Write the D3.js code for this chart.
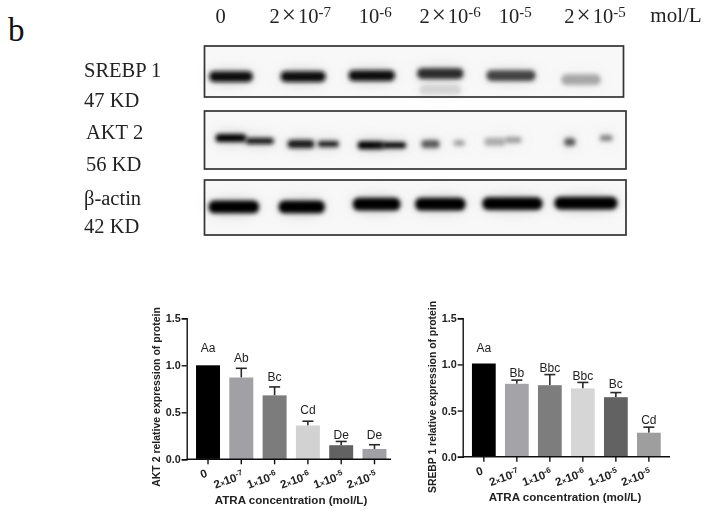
<!DOCTYPE html>
<html><head><meta charset="utf-8">
<script src="https://cdnjs.cloudflare.com/ajax/libs/d3/7.8.5/d3.min.js"></script>
<style>html,body{margin:0;padding:0;background:#fff}svg{display:block}</style>
</head><body><svg id="c" width="707" height="523"></svg>
<script>
// ---- chart data ----
const categories = ["0","2×10-7","1×10-6","2×10-6","1×10-5","2×10-5"];
const akt2Values = [1.0,0.87,0.68,0.36,0.15,0.11];
const akt2ErrTop = [1.0,0.968,0.77,0.405,0.19,0.155];
const akt2Letters = ["Aa","Ab","Bc","Cd","De","De"];
const akt2LetterAt = [1.145,1.04,0.83,0.48,0.22,0.22];
const srebpValues = [1.01,0.79,0.775,0.74,0.645,0.26];
const srebpErrTop = [1.01,0.83,0.89,0.805,0.695,0.32];
const srebpLetters = ["Aa","Bb","Bbc","Bbc","Bc","Cd"];
const srebpLetterAt = [1.14,0.86,0.92,0.83,0.745,0.355];
const yTicks = [0,0.5,1.0,1.5];
const akt2Greys = ["#000000","#a0a0a5","#7c7c7c","#d2d2d2","#626262","#a0a0a5"];
const srebpGreys = ["#000000","#a3a3a8","#7d7d7d","#d6d6d6","#626262","#9e9e9e"];
// ---- blot data: fractional lane, migration (0 top..1 bottom of panel), density, half-spread in lanes ----
const concLabels = ["0","2×10-7","10-6","2×10-6","10-5","2×10-5"];
const concLabelLane = [-0.15,0.99,2.06,3.13,4.06,5.2];
const srebpLane = [0,1.03,2.01,2.99,4.0,5.0];
const srebpMig = [0.60,0.60,0.58,0.54,0.58,0.66];
const srebpDensity = [0.95,0.95,0.95,0.82,0.72,0.3];
const srebpSpread = [0.31,0.32,0.33,0.33,0.35,0.28];
const aktLeftLane = [0,1,2,2.85,3.77,4.84];
const aktLeftMig = [0.466,0.57,0.59,0.57,0.53,0.535];
const aktLeftDensity = [1,0.9,1,0.62,0.28,0.62];
const aktLeftSpread = [0.22,0.19,0.19,0.13,0.15,0.08];
const aktRightLane = [0.41,1.39,2.33,3.26,4.03,5.36];
const aktRightMig = [0.517,0.57,0.59,0.55,0.50,0.466];
const aktRightDensity = [0.95,0.88,1,0.32,0.34,0.45];
const aktRightSpread = [0.2,0.15,0.17,0.08,0.12,0.09];
const actinLane = [0.04,1.01,2.08,2.99,4.02,5.07];
const actinMig = [0.49,0.49,0.44,0.44,0.43,0.42];
const actinDensity = [1,1,1,1,1,1];
const actinSpread = [0.36,0.33,0.34,0.36,0.43,0.45];
// faint smear below the 2×10-6 SREBP band
const smearLane = [2.99];
const smearMig = [0.86];
const smearDensity = [0.1];
const smearSpread = [0.3];

const svg = d3.select("#c");
const defs = svg.append("defs");
const blur = (id,s)=>defs.append("filter").attr("id",id).attr("x","-50%").attr("y","-100%").attr("width","200%").attr("height","300%")
  .append("feGaussianBlur").attr("stdDeviation",s);
blur("band",2); blur("soft",0.4); blur("halo",6); blur("text",0.3);

const serif = "'Liberation Serif','Times New Roman',serif", sans = "'Liberation Sans',Arial,sans-serif";
svg.append("text").text("b").attr("x",8).attr("y",41).attr("font-family",serif).attr("font-size",33).attr("fill","#111");

// top concentration labels with superscripts
const laneX = d3.scaleLinear().domain([0,5]).range([231,581]);
const topG = svg.append("g").attr("font-family",serif).attr("fill","#222").attr("text-anchor","middle").attr("filter","url(#text)");
concLabels.forEach((c,i)=>{
  const t = topG.append("text").attr("x",laneX(concLabelLane[i])).attr("y",23).attr("font-size",20.5);
  const parts = c.split("×"), exp = parts[parts.length-1];
  if(parts.length>1){
    t.append("tspan").text(parts[0]);
    t.append("tspan").text("×").attr("font-size",25).attr("dx",2);
    t.append("tspan").text(exp.slice(0,2)).attr("dx",2);
  } else t.append("tspan").text(exp.slice(0,2));
  if(exp.length>2) t.append("tspan").text(exp.slice(2)).attr("font-size",15).attr("dy",-6);
});
topG.append("text").text("mol/L").attr("x",676).attr("y",22).attr("font-size",21);

// blot panels
const panels = [
 {y0:46,y1:97,x0:204.5,x1:623.5,l1:"SREBP 1",l2:"47 KD",x1t:84,x2t:84,ly1:77,ly2:107},
 {y0:111,y1:169,x0:204.5,x1:626,l1:"AKT 2",l2:"56 KD",x1t:86,x2t:86,ly1:139,ly2:171},
 {y0:180,y1:235,x0:204.5,x1:626,l1:"β-actin",l2:"42 KD",x1t:84,x2t:84,ly1:205,ly2:233}
];
panels.forEach(p=>{
  svg.append("rect").attr("x",p.x0).attr("y",p.y0).attr("width",p.x1-p.x0).attr("height",p.y1-p.y0).attr("fill","#f8f8f8");
});
const panelY = p=>d3.scaleLinear().domain([0,1]).range([p.y0,p.y1]);
const ink = d3.scaleLinear().domain([0,1]).range(["#eeeeee","#000000"]);
const bands = svg.append("g");
function drawBands(p, lanes, mig, dens, spread, h){
  const y = panelY(p), unit = laneX(1)-laneX(0);
  const halo = bands.append("g").attr("filter","url(#halo)");
  halo.selectAll("ellipse").data(lanes).join("ellipse")
    .attr("cx",d=>laneX(d)).attr("cy",(d,i)=>y(mig[i])).attr("rx",(d,i)=>spread[i]*unit+2).attr("ry",h+3)
    .attr("fill","#999").attr("opacity",(d,i)=>dens[i]*0.35);
  const g = bands.append("g").attr("filter","url(#band)");
  g.selectAll("rect").data(lanes).join("rect")
    .attr("x",(d,i)=>laneX(d)-spread[i]*unit).attr("width",(d,i)=>2*spread[i]*unit)
    .attr("y",(d,i)=>y(mig[i])-h).attr("height",2*h).attr("rx",h*0.9).attr("ry",h*0.9)
    .attr("fill",(d,i)=>ink(dens[i]));
}
drawBands(panels[0],smearLane,smearMig,smearDensity,smearSpread,5);
drawBands(panels[0],srebpLane,srebpMig,srebpDensity,srebpSpread,5.4);
drawBands(panels[1],aktLeftLane,aktLeftMig,aktLeftDensity,aktLeftSpread,4);
drawBands(panels[1],aktRightLane,aktRightMig,aktRightDensity,aktRightSpread,3);
drawBands(panels[2],actinLane,actinMig,actinDensity,actinSpread,6.4);
panels.forEach(p=>{
  svg.append("rect").attr("x",p.x0).attr("y",p.y0).attr("width",p.x1-p.x0).attr("height",p.y1-p.y0)
    .attr("fill","none").attr("stroke","#333").attr("stroke-width",1.7);
  [[p.l1,p.ly1,p.x1t],[p.l2,p.ly2,p.x2t]].forEach(([s,yy,xx])=>{
    svg.append("text").text(s).attr("x",xx).attr("y",yy).attr("font-family",serif).attr("font-size",20.5).attr("fill","#222").attr("filter","url(#text)");
  });
});

// bar charts
function barChart(o){
  const g = svg.append("g").attr("filter","url(#soft)");
  const x = d3.scaleBand().domain(categories).range([o.left,o.right]).paddingInner(o.pad).paddingOuter(o.pad);
  const y = d3.scaleLinear().domain([0,1.5]).range([o.base,o.top]);
  const rows = categories.map((c,i)=>({c,v:o.values[i],e:o.err[i],l:o.letters[i],la:o.letterAt[i],f:o.greys[i]}));
  const eb = g.append("g").attr("stroke","#2a2a2a").attr("stroke-width",1.6);
  eb.selectAll("line.v").data(rows.filter(d=>d.e>d.v)).join("line").attr("class","v")
    .attr("x1",d=>x(d.c)+x.bandwidth()/2).attr("x2",d=>x(d.c)+x.bandwidth()/2).attr("y1",d=>y(d.v)).attr("y2",d=>y(d.e));
  eb.selectAll("line.c").data(rows.filter(d=>d.e>d.v)).join("line").attr("class","c")
    .attr("x1",d=>x(d.c)+x.bandwidth()/2-5.5).attr("x2",d=>x(d.c)+x.bandwidth()/2+5.5).attr("y1",d=>y(d.e)).attr("y2",d=>y(d.e));
  g.selectAll("rect.b").data(rows).join("rect").attr("class","b")
    .attr("x",d=>x(d.c)).attr("width",x.bandwidth()).attr("y",d=>y(d.v)).attr("height",d=>y(0)-y(d.v)).attr("fill",d=>d.f);
  g.selectAll("text.l").data(rows).join("text").attr("class","l").text(d=>d.l)
    .attr("x",d=>x(d.c)+x.bandwidth()/2).attr("y",d=>y(d.la)).attr("text-anchor","middle")
    .attr("font-family",sans).attr("font-size",12).attr("fill","#222");
  const ya = g.append("g").attr("transform",`translate(${o.left},0)`)
    .call(d3.axisLeft(y).tickValues(yTicks).tickFormat(d3.format(".1f")).tickSize(5).tickPadding(1));
  ya.selectAll("path,line").attr("stroke","#111").attr("stroke-width",1.4);
  ya.selectAll("text").attr("font-family",sans).attr("font-size",10.8).attr("font-weight","bold").attr("fill","#222");
  const xa = g.append("g").attr("transform",`translate(0,${o.base})`)
    .call(d3.axisBottom(x).tickSize(5).tickSizeOuter(0).tickFormat(""));
  xa.select("path.domain").remove();
  xa.append("line").attr("x1",o.left).attr("x2",o.axisEnd).attr("stroke","#111").attr("stroke-width",1.4);
  xa.selectAll(".tick line").attr("stroke","#111").attr("stroke-width",1.4);
  xa.selectAll(".tick text").each(function(d){
    const t = d3.select(this).text(null).attr("text-anchor","end").attr("font-family",sans).attr("font-weight","bold").attr("font-size",11.5).attr("fill","#222")
      .attr("transform","translate(3,19) rotate(-20)").attr("x",0).attr("y",0).attr("dy",0);
    const m = d.match(/^(\d)×10(-\d)$/);
    if(!m){ t.attr("transform","translate(0,17) rotate(-20)"); t.text(d); return; }
    t.append("tspan").text(m[1]);
    t.append("tspan").text("×").attr("font-size",7.5);
    t.append("tspan").text("10");
    t.append("tspan").text(m[2]).attr("font-size",8).attr("dy",-4);
  });
  g.append("text").text(o.yTitle).attr("transform",`translate(${o.yTitleX},${o.yTitleY}) rotate(-90)`)
    .attr("text-anchor","middle").attr("font-family",sans).attr("font-weight","bold").attr("font-size",o.yTitleSize).attr("fill","#222");
  g.append("text").text("ATRA concentration (mol/L)").attr("x",o.xTitleX).attr("y",o.xTitleY)
    .attr("text-anchor","middle").attr("font-family",sans).attr("font-weight","bold").attr("font-size",11.6).attr("fill","#222");
}
barChart({left:186.7,right:395.8,axisEnd:391,base:459.3,top:318.3,pad:0.28,values:akt2Values,err:akt2ErrTop,letters:akt2Letters,letterAt:akt2LetterAt,greys:akt2Greys,
  yTitle:"AKT 2 relative expression of protein",yTitleSize:10.5,yTitleX:160,yTitleY:397,xTitleX:291,xTitleY:504});
barChart({left:462.7,right:670,axisEnd:670,base:456.7,top:318.3,pad:0.28,values:srebpValues,err:srebpErrTop,letters:srebpLetters,letterAt:srebpLetterAt,greys:srebpGreys,
  yTitle:"SREBP 1 relative expression of protein",yTitleSize:10.4,yTitleX:436,yTitleY:397,xTitleX:565,xTitleY:501});
</script></body></html>
